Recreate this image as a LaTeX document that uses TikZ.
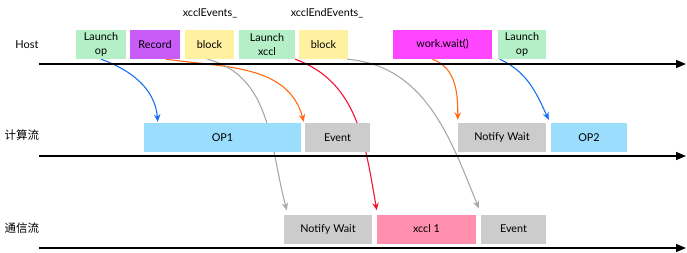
\documentclass[tikz,border=0pt]{standalone}
\usepackage{fontspec}
\setmainfont{Lato}
\newfontfamily\cjk{Noto Sans CJK SC}
\usetikzlibrary{arrows.meta,backgrounds}

\definecolor{launchgreen}{HTML}{B4EFC8}
\definecolor{recordpurple}{HTML}{C95CF6}
\definecolor{blockyellow}{HTML}{FFF1A0}
\definecolor{waitpink}{HTML}{FF45FF}
\definecolor{opblue}{HTML}{9ADDFD}
\definecolor{eventgrey}{HTML}{CCCCCC}
\definecolor{xcclpink}{HTML}{FF8FAD}
\definecolor{arrblue}{HTML}{1870F0}
\definecolor{arrorange}{HTML}{FF6A12}
\definecolor{arrred}{HTML}{F2142E}
\definecolor{arrgrey}{HTML}{A8A8A8}

\begin{document}
\begin{tikzpicture} [
                x=1pt, y=-1pt,
                box/.style={minimum height=29pt,inner sep=0pt,align=center,
                    font=\fontsize{10.8}{13.5}\selectfont},
                lane/.style={font=\fontsize{11}{12}\selectfont},
                axis/.style = {draw,line width=1.3pt,-{Triangle[length=10pt,width=8pt]}},
                flow/.style = {draw,line width=1.1pt,-{Stealth[length=7.5pt,width=6.5pt,inset=2.5pt]}},
            ]
            \useasboundingbox (0,0) rectangle (687,252);
            % the three time lines
            \foreach \y/\name in {64/host, 156/comp, 248/comm} {
                \coordinate (\name S) at (39,\y);
                \coordinate (\name E) at (686,\y);
                \path[axis] (\name S) -- (\name E);
            }
            \node[lane] (hostlbl) at (27,45) {Host};
            \node[lane,font=\fontsize{11.5}{12}\selectfont] (complbl) at (22,135) {\cjk 计算流};
            \node[lane,font=\fontsize{11.5}{12}\selectfont] (commlbl) at (22,228) {\cjk 通信流};
            % boxes
            \foreach \pos/\w/\clr/\name/\txt in {
            {(101,44.5)/50pt/launchgreen/launchA/{Launch\\op}},
            {(155,44.5)/50pt/recordpurple/record/Record},
            {(209.5,44.5)/49pt/blockyellow/blockA/block},
            {(267,44.5)/56pt/launchgreen/launchB/{Launch\\xccl}},
            {(323.5,44.5)/49pt/blockyellow/blockB/block},
            {(442.5,44.5)/99pt/waitpink/wait/work.wait()},
            {(522,44.5)/48pt/launchgreen/launchC/{Launch\\op}},
            {(222.5,137.5)/157pt/opblue/opA/OP1},
            {(337.5,137.5)/65pt/eventgrey/eventA/Event},
            {(502,137.5)/88pt/eventgrey/notifyA/Notify Wait},
            {(589,137.5)/76pt/opblue/opB/OP2},
            {(328,229)/88pt/eventgrey/notifyB/Notify Wait},
            {(426.5,229)/99pt/xcclpink/xccl/xccl 1},
            {(513.5,229)/65pt/eventgrey/eventB/Event}}
                \node[box,minimum width=\w,fill=\clr] (\name) at \pos {\txt};
            \node[box,minimum height=0pt] (evlbl) at (210,13) {xcclEvents\_};
            \node[box,minimum height=0pt] (endlbl) at (327,13) {xcclEndEvents\_};
            % dependencies, kept under the boxes
            \begin{pgfonlayer}{background}
                \path[flow,arrblue] (launchA.south) to[out=-20,in=95] ([shift={(14pt,1pt)}]opA.north west);
                \path[flow,arrorange] ([xshift=11pt]record.south) to[out=-8,in=105] ([shift={(-1pt,1pt)}]eventA.north west);
                \path[flow,arrgrey] ([xshift=-2pt]blockA.south) to[out=-15,in=105] ([shift={(3pt,4pt)}]notifyB.north west);
                \path[flow,arrred] (launchB.south east) to[out=-20,in=100] ([shift={(0pt,4pt)}]xccl.north west);
                \path[flow,arrgrey] ([xshift=-1pt]blockB.south east) to[out=-5,in=112] ([shift={(-2pt,6pt)}]eventB.north west);
                \path[flow,arrorange] ([xshift=-10pt]wait.south) to[out=-20,in=90] ([shift={(0pt,3pt)}]notifyA.north west);
                \path[flow,arrblue] ([xshift=2pt]launchC.south west) to[out=-25,in=115] ([shift={(-2pt,3pt)}]opB.north west);
            \end{pgfonlayer}
        \end{tikzpicture}
\end{document}
